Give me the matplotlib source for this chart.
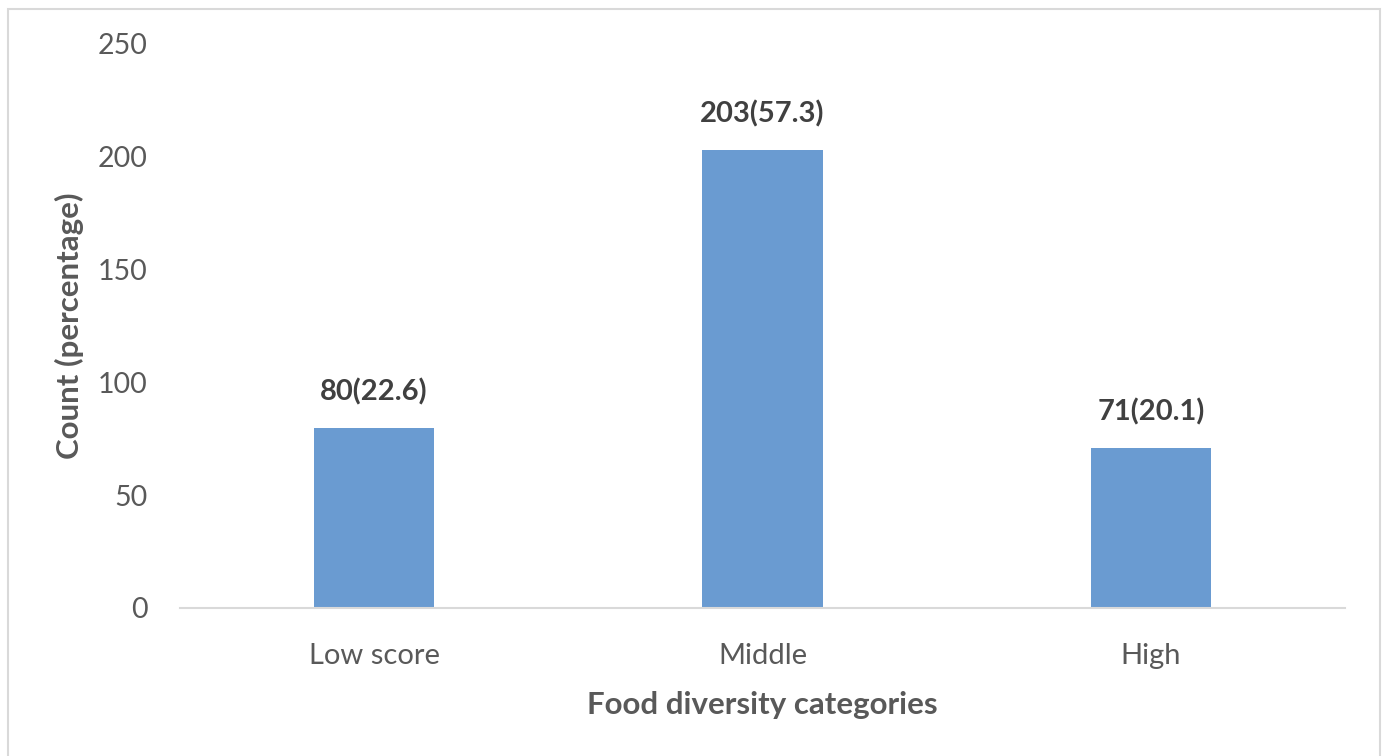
import matplotlib
matplotlib.use("Agg")
import matplotlib.pyplot as plt
from matplotlib.patches import Rectangle

categories = ["Low score", "Middle", "High"]
counts = [80, 203, 71]
percentages = [22.6, 57.3, 20.1]
yticks = [0, 50, 100, 150, 200, 250]

plt.rcParams['font.family'] = ['Lato', 'DejaVu Sans']
text_color = "#595959"
label_color = "#404040"
bar_color = "#6A9BD1"

fig = plt.figure(figsize=(13.86, 7.56), dpi=100)
ax = fig.add_axes([180/1386, 1-608/756, (1345-180)/1386, (608-44)/756])

x = list(range(len(categories)))
bars = ax.bar(x, counts, width=0.31, color=bar_color, zorder=2)
for xi, c, p in zip(x, counts, percentages):
    ax.annotate(f"{c}({p})", (xi, c), xytext=(0, 16), textcoords="offset points",
                ha="center", va="bottom", fontsize=21, fontweight="bold", color=label_color)

ax.set_xlim(-0.5, len(categories) - 0.5)
ax.set_ylim(0, 250)
ax.set_yticks(yticks)
ax.set_yticklabels([str(t) for t in yticks])
ax.set_xticks(x)
ax.set_xticklabels(categories)
ax.tick_params(axis="x", length=0, labelsize=21, colors=text_color, pad=25)
ax.tick_params(axis="y", length=0, labelsize=20.5, colors=text_color, pad=23.5)

for s in ["top", "right", "left"]:
    ax.spines[s].set_visible(False)
ax.spines["bottom"].set_color("#D9D9D9")
ax.spines["bottom"].set_linewidth(1.5)

ax.set_xlabel("Food diversity categories", fontsize=22.5, fontweight="bold", color=text_color, labelpad=16)
ax.set_ylabel("Count (percentage)", fontsize=22.5, fontweight="bold", color=text_color, labelpad=10)

fig.patches.append(Rectangle((7.5/1386, -0.01), (1380-7.5)/1386, 1.01-8.5/756,
                             transform=fig.transFigure, fill=False,
                             edgecolor="#D9D9D9", linewidth=1.5))

fig.savefig("out.png", dpi=100)
